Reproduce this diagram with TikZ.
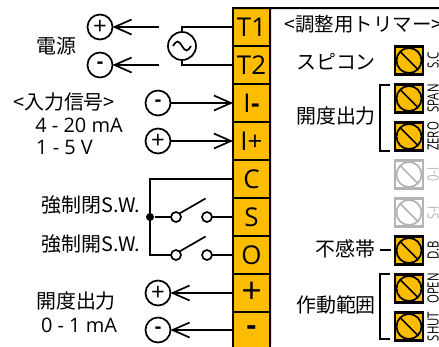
\documentclass[tikz,border=0pt]{standalone}
\usepackage{fontspec}
\setmainfont{Open Sans}
\newfontfamily\jp{Noto Sans CJK JP}
\usetikzlibrary{arrows.meta}
\definecolor{termfill}{HTML}{FCBD00}
\definecolor{offgray}{HTML}{B4B4B4}

\begin{document}
\begin{tikzpicture}[x=1bp,y=-1bp,line width=1.7bp,
  term/.style={rectangle,draw,fill=termfill,line width=2bp,minimum width=37bp,minimum height=38bp,
    inner sep=0pt,outer sep=0pt,font=\fontsize{26}{26}\selectfont},
  sign/.style={circle,draw,minimum size=25bp,inner sep=0pt,outer sep=0pt,font=\fontsize{24}{24}\selectfont},
  minus/.style={sign,font=\fontsize{20}{20}\selectfont\bfseries},
  contact/.style={circle,draw,fill=white,minimum size=10bp,inner sep=0pt,outer sep=0pt},
  trimbox/.style={rectangle,draw,line width=2.2bp,minimum size=28bp,inner sep=0pt},
  trimname/.style={rotate=90,xscale=0.74,anchor=base,inner sep=0pt,font=\fontsize{15.5}{15.5}\selectfont},
  jplabel/.style={inner sep=0pt,font=\fontsize{20}{22}\selectfont\jp},
  numlabel/.style={inner sep=0pt,font=\fontsize{20}{22}\selectfont},
  wire/.style={-{Straight Barb[length=17bp,width=15bp,line width=1.7bp]}}]
  \useasboundingbox (0,0) rectangle (439,346);

  % terminal strip
  \node[term] (T1) at (251.5,27) {T1};
  \node[term] (T2) at (251.5,65) {T2};
  \node[term] (Im) at (251.5,103) {I\hspace{0.5pt}\textbf{-}};
  \node[term] (Ip) at (251.5,141) {I+};
  \node[term] (C) at (251.5,179) {C};
  \node[term] (S) at (251.5,217) {S};
  \node[term] (O) at (251.5,255) {O};
  \node[term,font=\fontsize{36}{36}\selectfont] (Pl) at (251.5,293) {+};
  \node[term,font=\fontsize{30}{30}\selectfont\bfseries] (Mi) at (251.5,331) {-};
  \draw[line width=2bp] (T1.north west) -- (439,8) (T1.north east) -- (270,346);

  % power supply
  \node[sign] (pwrP) at (100,27) {+};
  \node[minus] (pwrM) at (100,65) {-};
  \node[circle,draw,minimum size=28bp,inner sep=0pt,outer sep=0pt] (ac) at (182,46) {};
  \draw (ac) ++(-9,0) sin ++(4.5,-4.5) cos ++(4.5,4.5) sin ++(4.5,4.5) cos ++(4.5,-4.5);
  \coordinate (pwrPend) at (159,27);
  \coordinate (pwrMend) at (159,65);
  \draw[wire] (pwrPend) -- (pwrP);
  \draw[wire] (pwrMend) -- (pwrM);
  \draw (ac.north) |- (T1.west);
  \draw (ac.south) |- (T2.west);
  \node[jplabel] (pwrtext) at (56,46) {電源};

  % input signal
  \node[minus] (inM) at (158,103) {-};
  \node[sign] (inP) at (158,141) {+};
  \draw[wire] (inM) -- (Im);
  \draw[wire] (inP) -- (Ip);
  \node[jplabel] (intext) at (64,102) {<入力信号>};
  \node[numlabel] (inrangeA) at (79,125) {4 - 20 mA};
  \node[numlabel] (inrangeB) at (64.5,147) {1 - 5 V};

  % forced close / open switches
  \node[circle,fill,minimum size=8bp,inner sep=0pt] (jt) at (150,217) {};
  \coordinate (corner) at (150,255);
  \node[contact] (swA1) at (176,217) {};
  \node[contact] (swA2) at (207,217) {};
  \node[contact] (swB1) at (176,255) {};
  \node[contact] (swB2) at (207,255) {};
  \draw (C.west) -| (corner) -- (swB1);
  \draw (jt) -- (swA1);
  \draw (swA2) -- (S.west);
  \draw (swB2) -- (O.west);
  \draw (swA1.north east) -- ++(26,-15);
  \draw (swB1.north east) -- ++(26,-15);
  \node[jplabel] (swtextA) at (91,205) {強制閉S.W.};
  \node[jplabel] (swtextB) at (91,244) {強制開S.W.};

  % output
  \node[sign] (outP) at (158,293) {+};
  \node[minus] (outM) at (158,330) {-};
  \draw[wire] (Pl) -- (outP);
  \draw[wire] (Mi.west |- outM) -- (outM);
  \node[jplabel] (outtextA) at (76,301) {開度出力};
  \node[numlabel] (outtextB) at (79,325) {0 - 1 mA};

  % trimmers
  \node[jplabel,font=\fontsize{19.5}{22}\selectfont\jp] (trimhead) at (363.5,24) {<調整用トリマー>};
  \foreach \n/\y/\c/\f/\t in {a/60.5/black/termfill/S.C,b/98.5/black/termfill/SPAN,c/136.5/black/termfill/ZERO,
      d/174.5/offgray/white/0-I,e/212.5/offgray/white/S-I,f/250.5/black/termfill/D.B,
      g/288.5/black/termfill/OPEN,h/326.5/black/termfill/SHUT} {
    \node[trimbox,draw=\c,fill=\f] (tr\n) at (409,\y) {};
    \draw[\c] (tr\n) circle (12.5);
    \draw[\c] (tr\n) ++(-9,-9) -- ++(18,18);
    \node[trimname,text=\c] (name\n) at (438.5,\y) {\t};
  }
  \node[jplabel] (spcontext) at (336,62) {スピコン};
  \node[jplabel] (spantext) at (336,116) {開度出力};
  \node[jplabel] (dbtext) at (345.5,249) {不感帯};
  \node[jplabel] (rangetext) at (336,305) {作動範囲};
  \draw (390,85) -- (380,85) -- (380,151) -- (390,151);
  \draw (390,274) -- (380,274) -- (380,339) -- (390,339);
  \draw (380,250) -- (391,250);
\end{tikzpicture}
\end{document}
